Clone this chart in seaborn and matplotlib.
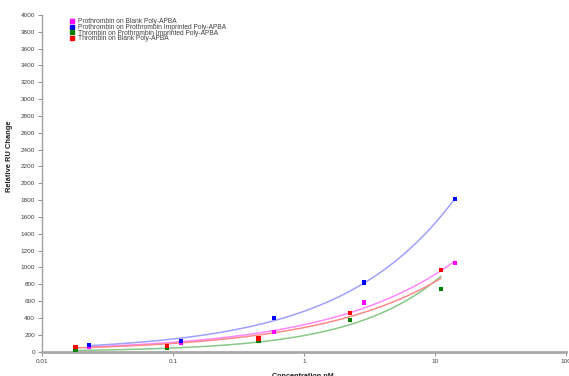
import numpy as np
import pandas as pd
import matplotlib
matplotlib.use("Agg")
import matplotlib.pyplot as plt
from matplotlib.lines import Line2D
from matplotlib.ticker import FixedLocator, FixedFormatter, NullLocator
import seaborn as sns

# Series labels
series_names = [
    "Prothrombin on Blank Poly-APBA",
    "Prothrombin on Prothrombin Imprinted Poly-APBA",
    "Thrombin on Prothrombin Imprinted Poly-APBA",
    "Thrombin on Blank Poly-APBA",
]

# Concentrations (nM)
prothrombin_conc = [0.023, 0.115, 0.59, 2.85, 14.2]
thrombin_conc = [0.018, 0.09, 0.45, 2.24, 11.1]

# Relative RU change per series
prothrombin_blank = [62, 108, 232, 584, 1049]
prothrombin_imprinted = [80, 132, 404, 821, 1812]
thrombin_imprinted = [12, 48, 125, 372, 740]
thrombin_blank = [60, 72, 156, 464, 968]

point_colors = ["#FF00FF", "#0000FF", "#008000", "#FF0000"]
line_colors = ["#FF88FF", "#A0A0FF", "#88C888", "#FF8888"]

frames = []
for name, xs, ys in zip(
    series_names,
    [prothrombin_conc, prothrombin_conc, thrombin_conc, thrombin_conc],
    [prothrombin_blank, prothrombin_imprinted, thrombin_imprinted, thrombin_blank],
):
    frames.append(pd.DataFrame({"Concentration": xs, "RU": ys, "Series": name}))
df = pd.concat(frames, ignore_index=True)

# Power-law trend line for each series (least squares in log-log space)
fit_frames = []
for name in series_names:
    sub = df[df["Series"] == name]
    lx, ly = np.log(sub["Concentration"]), np.log(sub["RU"])
    b, lna = np.polyfit(lx, ly, 1)
    xx = np.geomspace(sub["Concentration"].min(), sub["Concentration"].max(), 200)
    fit_frames.append(pd.DataFrame({"Concentration": xx, "RU": np.exp(lna) * xx ** b, "Series": name}))
fits = pd.concat(fit_frames, ignore_index=True)

sns.set_theme(style="white")
plt.rcParams["font.family"] = ["Liberation Sans", "DejaVu Sans"]

fig = plt.figure(figsize=(5.69, 3.76), dpi=100)
ax = fig.add_axes([0.0738, 0.0646, 0.921, 0.896])

sns.lineplot(data=fits, x="Concentration", y="RU", hue="Series", hue_order=series_names,
             palette=line_colors, linewidth=1.1, legend=False, ax=ax, sort=False,
             estimator=None)
sns.scatterplot(data=df, x="Concentration", y="RU", hue="Series", hue_order=series_names,
                palette=point_colors, marker="s", s=9, linewidth=0, legend=False, ax=ax,
                zorder=3)

ax.set_xscale("log")
ax.set_xlim(0.01, 100)
ax.set_ylim(0, 4000)
ax.xaxis.set_major_locator(FixedLocator([0.01, 0.1, 1, 10, 100]))
ax.xaxis.set_major_formatter(FixedFormatter(["0.01", "0.1", "1", "10", "100"]))
ax.xaxis.set_minor_locator(NullLocator())
ax.set_yticks(np.arange(0, 4001, 200))

for side in ["top", "right"]:
    ax.spines[side].set_visible(False)
ax.spines["left"].set_color("#A0A0A0")
ax.spines["left"].set_linewidth(1.0)
ax.spines["bottom"].set_color("#A8A8A8")
ax.spines["bottom"].set_linewidth(2.0)

ax.tick_params(axis="both", which="major", direction="out", length=3, width=0.6,
               color="#808080", labelsize=4.6, labelcolor="#404040", pad=2,
               bottom=True, left=True)

ax.set_xlabel("Concentration nM", fontsize=5.2, fontweight="bold", color="#202020")
ax.set_ylabel("Relative RU Change", fontsize=5.4, fontweight="bold", color="#202020")
ax.xaxis.set_label_coords(0.498, -0.064)
ax.yaxis.set_label_coords(-0.055, 0.579)

handles = [Line2D([], [], linestyle="none", marker="s", markersize=2.6,
                  markerfacecolor=c, markeredgecolor=c) for c in point_colors]
leg = ax.legend(handles, series_names, loc="upper left", bbox_to_anchor=(0.052, 0.99),
                frameon=False, fontsize=4.8, handlelength=0.8, handletextpad=0.45,
                labelspacing=-0.2, borderaxespad=0, borderpad=0)
for t in leg.get_texts():
    t.set_color("#404040")

fig.savefig("out.png", dpi=100)
